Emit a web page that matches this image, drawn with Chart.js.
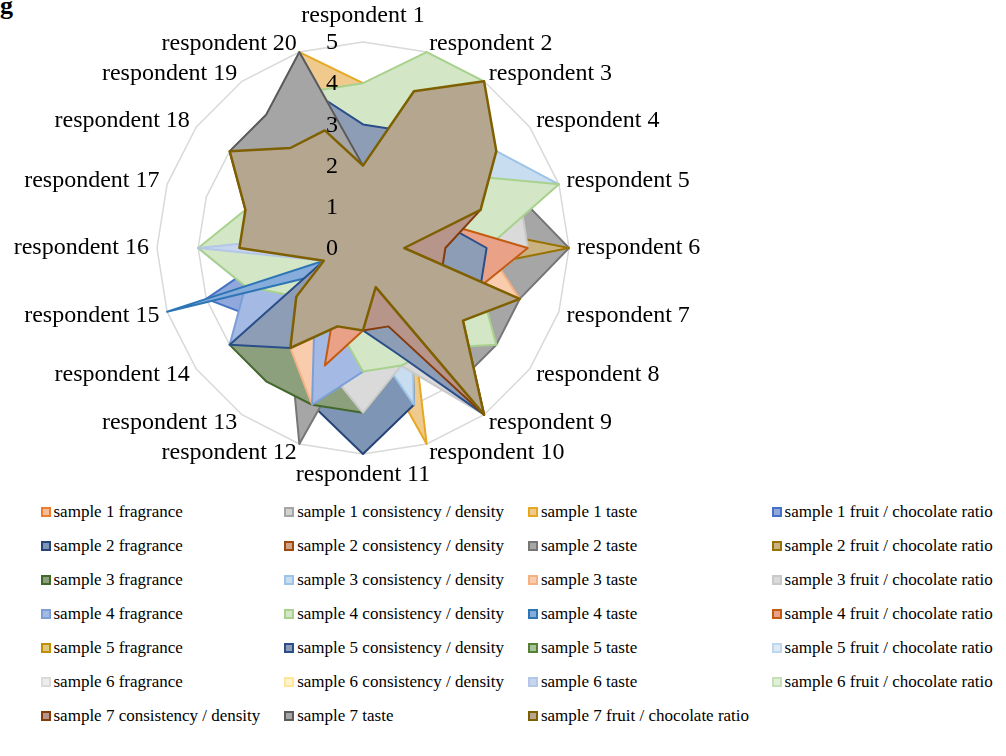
<!DOCTYPE html>
<html>
<head>
<meta charset="utf-8">
<script src="https://cdn.jsdelivr.net/npm/chart.js@4.4.1/dist/chart.umd.min.js"></script>
<style>
  html, body { margin: 0; padding: 0; background: #fff; }
  body { width: 1006px; height: 756px; position: relative; overflow: hidden;
         font-family: "Liberation Serif", "Times New Roman", serif; }
  #panel { position: absolute; left: 0; top: -7px; font-weight: bold; font-size: 26px; line-height: 26px; color: #000; }
  #radar { position: absolute; left: 0; top: 0; }
  .item { position: absolute; height: 20px; display: flex; align-items: center;
          font-size: 17px; color: #000; white-space: nowrap; }
  .box { width: 10px; height: 10px; box-sizing: border-box; border: 2px solid; margin-right: 3px; flex: none; }
</style>
</head>
<body>
<div id="panel">g</div>
<canvas id="radar" width="714" height="500"></canvas>
<div id="legend"></div>
<script>
// Axis categories: one spoke per respondent
const respondents = [
  'respondent 1', 'respondent 2', 'respondent 3', 'respondent 4', 'respondent 5',
  'respondent 6', 'respondent 7', 'respondent 8', 'respondent 9', 'respondent 10',
  'respondent 11', 'respondent 12', 'respondent 13', 'respondent 14', 'respondent 15',
  'respondent 16', 'respondent 17', 'respondent 18', 'respondent 19', 'respondent 20'
];

// Score scale shown along the vertical spoke
const scoreMin = 0;
const scoreMax = 5;
const scoreStep = 1;

// Scores per sample attribute (respondent 1 .. 20)
const s1Fragrance   = [1, 2, 2, 2, 1, 1, 2, 1, 2, 1, 1, 1, 2, 1, 1, 2, 2, 2, 2, 2];
const s1Consistency = [2, 3, 3, 2, 2, 1, 2, 2, 3, 1, 1, 2, 2, 1, 1, 2, 2, 3, 2, 2];
const s1Taste       = [4, 2, 2, 1, 1, 1, 1, 1, 2, 5, 2, 1, 1, 1, 1, 1, 1, 2, 3, 5];
const s1Fruit       = [1, 2, 2, 2, 1, 1, 2, 1, 2, 1, 1, 1, 2, 3, 4, 2, 2, 2, 2, 2];
const s2Fragrance   = [1, 2, 2, 2, 1, 1, 2, 1, 2, 4, 5, 4, 2, 1, 1, 2, 2, 2, 2, 2];
const s2Consistency = [1, 2, 3, 3, 2, 1, 3, 2, 3, 1, 2, 1, 2, 2, 1, 2, 3, 3, 2, 2];
const s2Taste       = [1, 2, 2, 3, 4, 5, 4, 4, 4, 3, 2, 5, 3, 1, 1, 2, 2, 2, 2, 1];
const s2Fruit       = [1, 2, 2, 2, 2, 5, 2, 1, 2, 1, 1, 1, 2, 1, 1, 2, 2, 2, 2, 2];
const s3Fragrance   = [1, 2, 2, 2, 1, 1, 2, 1, 2, 3, 4, 4, 4, 4, 2, 1, 2, 2, 2, 2];
const s3Consistency = [1, 2, 1, 4, 5, 2, 2, 1, 2, 4, 2, 1, 2, 1, 1, 2, 2, 2, 2, 2];
const s3Taste       = [1, 2, 2, 2, 2, 3, 4, 3, 2, 1, 2, 4, 3, 2, 1, 1, 2, 2, 2, 2];
const s3Fruit       = [1, 2, 2, 2, 4, 4, 3, 3, 5, 3, 4, 3, 1, 1, 1, 2, 2, 2, 2, 2];
const s4Fragrance   = [1, 2, 2, 2, 1, 1, 2, 1, 2, 2, 3, 4, 2, 4, 3, 4, 1, 2, 2, 2];
const s4Consistency = [4, 5, 5, 3, 5, 3, 3, 4, 3, 3, 3, 2, 1, 2, 3, 4, 3, 3, 3, 4];
const s4Taste       = [1, 2, 2, 2, 1, 1, 2, 1, 2, 1, 1, 1, 2, 1, 5, 0, 1, 2, 2, 2];
const s4Fruit       = [1, 2, 2, 2, 2, 4, 3, 2, 2, 1, 2, 3, 1, 1, 1, 1, 2, 2, 2, 1];
const s5Fragrance   = [1, 2, 2, 2, 1, 1, 2, 1, 2, 1, 1, 1, 2, 1, 1, 2, 2, 2, 2, 2];
const s5Consistency = [3, 3, 2, 2, 2, 3, 3, 2, 5, 2.7, 2, 1, 3, 4, 1, 1, 1, 1, 2, 4];
const s5Taste       = [2, 3, 3, 2, 2, 1, 2, 2, 3, 1, 1, 2, 2, 1, 1, 2, 2, 3, 2, 2];
const s5Fruit       = [1, 2, 3, 3, 2, 1, 3, 2, 3, 1, 2, 1, 2, 2, 1, 2, 3, 3, 2, 2];
const s6Fragrance   = [1, 3, 3, 3, 2, 1, 3, 2, 3, 1, 2, 2, 2, 1, 1, 2, 3, 3, 2, 2];
const s6Consistency = [2, 2, 3, 2, 1, 1, 3, 2, 2, 1, 1, 1, 2, 2, 1, 2, 2, 2, 2, 1];
const s6Taste       = [2, 1, 1, 1, 1, 1, 1, 1, 1, 1, 1, 1, 1, 1, 1, 4, 1, 2, 3, 5];
const s6Fruit       = [1, 2, 2, 2, 1, 1, 2, 1, 2, 1, 1, 1, 2, 1, 1, 2, 2, 2, 2, 2];
const s7Consistency = [1, 2, 2, 2, 3, 2, 2, 3, 5, 2, 2, 1, 1, 1, 1, 1, 1, 1, 1, 1];
const s7Taste       = [2, 2, 2, 2, 2, 1, 2, 2, 2, 1, 1, 1, 2, 1, 1, 2, 3, 4, 4, 5];
const s7Fruit       = [2, 4, 5, 4, 3, 1, 4, 3, 5, 1, 2, 2, 3, 2, 1, 3, 3, 4, 3, 3];

// Series names, in plotting order (first drawn at the bottom)
const seriesNames = [
  'sample 1 fragrance', 'sample 1 consistency / density', 'sample 1 taste', 'sample 1 fruit / chocolate ratio',
  'sample 2 fragrance', 'sample 2 consistency / density', 'sample 2 taste', 'sample 2 fruit / chocolate ratio',
  'sample 3 fragrance', 'sample 3 consistency / density', 'sample 3 taste', 'sample 3 fruit / chocolate ratio',
  'sample 4 fragrance', 'sample 4 consistency / density', 'sample 4 taste', 'sample 4 fruit / chocolate ratio',
  'sample 5 fragrance', 'sample 5 consistency / density', 'sample 5 taste', 'sample 5 fruit / chocolate ratio',
  'sample 6 fragrance', 'sample 6 consistency / density', 'sample 6 taste', 'sample 6 fruit / chocolate ratio',
  'sample 7 consistency / density', 'sample 7 taste', 'sample 7 fruit / chocolate ratio'
];
const seriesValues = [
  s1Fragrance, s1Consistency, s1Taste, s1Fruit,
  s2Fragrance, s2Consistency, s2Taste, s2Fruit,
  s3Fragrance, s3Consistency, s3Taste, s3Fruit,
  s4Fragrance, s4Consistency, s4Taste, s4Fruit,
  s5Fragrance, s5Consistency, s5Taste, s5Fruit,
  s6Fragrance, s6Consistency, s6Taste, s6Fruit,
  s7Consistency, s7Taste, s7Fruit
];

// Outline and area colours for each series
const lineColors = [
  '#ED7D31', '#A5A5A5', '#E5A823', '#4472C4',
  '#264478', '#9E480E', '#767676', '#997300',
  '#43682B', '#9DC3E6', '#F4B183', '#C9C9C9',
  '#7C9FD8', '#A9D18E', '#2E75B6', '#C55A11',
  '#BF9000', '#2A4E8A', '#548235', '#BDD7EE',
  '#DBDBDB', '#FFE699', '#B4C7E7', '#C5E0B4',
  '#843C0C', '#5A5A5A', '#7F6000'
];
const areaColors = [
  '#F6BD96', '#D2D2D2', '#F0CA8C', '#90A8DC',
  '#7F95B5', '#CEA386', '#A6A6A6', '#C9B282',
  '#8DA07E', '#C9DDF1', '#F9CCAD', '#DADADA',
  '#A4B9E4', '#D3E7C6', '#86ACDC', '#E9A287',
  '#DFC77F', '#8E9DB6', '#A9C09A', '#DEEBF6',
  '#EDEDED', '#FFF2CC', '#C8D5EE', '#E2F0D9',
  '#B8958A', '#A5A5A5', '#B5A68F'
];

const serifStack = '"Liberation Serif", "Times New Roman", serif';
const count = seriesNames.length;

const datasets = seriesNames.map((name, i) => ({
  label: name,
  data: seriesValues[i],
  borderColor: lineColors[i],
  backgroundColor: areaColors[i],
  borderWidth: i === count - 1 ? 2.5 : 2,
  fill: true,
  // later series sit on top of earlier ones
  order: count - 1 - i
}));

// Score numbers placed just left of the vertical spoke, above the areas
const scoreLabels = {
  id: 'scoreLabels',
  afterDatasetsDraw(chart) {
    const r = chart.scales.r;
    const ctx = chart.ctx;
    ctx.save();
    ctx.font = '24px ' + serifStack;
    ctx.fillStyle = '#000';
    ctx.textAlign = 'center';
    ctx.textBaseline = 'middle';
    r.ticks.forEach(t => {
      ctx.fillText(t.label, r.xCenter - 31, r.yCenter - r.getDistanceFromCenterForValue(t.value) + 1);
    });
    ctx.restore();
  }
};

const chart = new Chart(document.getElementById('radar'), {
  type: 'radar',
  data: { labels: respondents, datasets: datasets },
  options: {
    responsive: false,
    animation: false,
    layout: { padding: { top: 13, bottom: 21, left: 0, right: 0 } },
    plugins: { legend: { display: false }, tooltip: { enabled: false } },
    elements: {
      line: { tension: 0, borderJoinStyle: 'round' },
      point: { radius: 0, hitRadius: 0, hoverRadius: 0 }
    },
    scales: {
      r: {
        min: scoreMin,
        max: scoreMax,
        ticks: { stepSize: scoreStep, display: false },
        grid: { color: '#D9D9D9', lineWidth: 1.5 },
        angleLines: { display: false },
        pointLabels: {
          color: '#000',
          font: { family: serifStack, size: 24, lineHeight: 0.1 },
          padding: (c) => c.index === 0 ? 24.6 : (c.index === 10 ? 20 : 8)
        }
      }
    }
  },
  plugins: [scoreLabels]
});

// Four-column legend built from the chart's datasets
const legend = document.getElementById('legend');
chart.data.datasets.forEach((ds, i) => {
  const row = Math.floor(i / 4);
  const col = i % 4;
  const item = document.createElement('div');
  item.className = 'item';
  item.style.left = (40.5 + col * 243.7) + 'px';
  item.style.top = (502 + row * 34) + 'px';
  const box = document.createElement('span');
  box.className = 'box';
  box.style.borderColor = ds.borderColor;
  box.style.background = ds.backgroundColor;
  const text = document.createElement('span');
  text.textContent = ds.label;
  item.appendChild(box);
  item.appendChild(text);
  legend.appendChild(item);
});
</script>
</body>
</html>
